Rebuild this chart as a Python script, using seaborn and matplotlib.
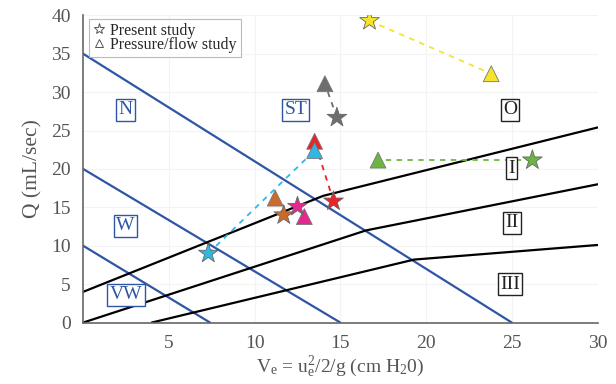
import pandas as pd
import matplotlib
matplotlib.use('Agg')
import matplotlib.pyplot as plt
import seaborn as sns
from matplotlib.lines import Line2D

sns.set_style('white')
plt.rcParams['font.family'] = ['Liberation Serif', 'DejaVu Serif']
plt.rcParams['mathtext.fontset'] = 'custom'
plt.rcParams['mathtext.rm'] = 'Liberation Serif'
plt.rcParams['mathtext.it'] = 'Liberation Serif'

# Данные: цвета пар и координаты (звезда = present study, треугольник = pressure/flow)
colors = ['#f6e32a', '#6e6e6e', '#e8232b', '#2fb8e6', '#6cb543', '#cc6a2a', '#e4288e']
star_x = [16.7, 14.8, 14.6, 7.3, 26.2, 11.7, 12.5]
star_y = [39.3, 26.7, 15.8, 9.0, 21.15, 14.0, 15.1]
tri_x = [23.8, 14.1, 13.5, 13.5, 17.2, 11.2, 12.9]
tri_y = [32.4, 31.1, 23.6, 22.4, 21.15, 16.2, 13.8]

# Граничные линии
blue_lines = [([0, 25], [35, 0]), ([0, 15], [20, 0]), ([0, 7.4], [10, 0])]
black_lines = [([0, 14, 30], [4, 16.5, 25.4]),
               ([0, 16.5, 30], [0, 12.0, 18.0]),
               ([4, 19.3, 30], [0, 8.2, 10.1])]

# Подписи зон
zone_names = ['N', 'ST', 'W', 'VW', 'O', 'I', 'II', 'III']
zone_x = [2.45, 12.4, 2.45, 2.5, 24.9, 25.0, 25.0, 24.9]
zone_y = [27.7, 27.7, 12.6, 3.6, 27.7, 20.1, 13.0, 5.0]
zone_blue = [True, True, True, True, False, False, False, False]

df_star = pd.DataFrame({'x': star_x, 'y': star_y, 'c': colors})
df_tri = pd.DataFrame({'x': tri_x, 'y': tri_y, 'c': colors})

fig, ax = plt.subplots(figsize=(6.16, 3.84), dpi=100)

for xs, ys in blue_lines:
    ax.plot(xs, ys, color='#2f55a4', lw=1.6, zorder=2)
for xs, ys in black_lines:
    ax.plot(xs, ys, color='black', lw=1.6, zorder=2)

for i, c in enumerate(colors):
    ax.plot([star_x[i], tri_x[i]], [star_y[i], tri_y[i]], ls=(0, (3, 3)),
            color=c, lw=1.3, zorder=3)

sns.scatterplot(data=df_tri, x='x', y='y', hue='c', palette=dict(zip(colors, colors)),
                marker='^', s=130, edgecolor='#777777', linewidth=0.6,
                legend=False, ax=ax, zorder=4)
sns.scatterplot(data=df_star, x='x', y='y', hue='c', palette=dict(zip(colors, colors)),
                marker='*', s=220, edgecolor='#666666', linewidth=0.6,
                legend=False, ax=ax, zorder=5)

for name, zx, zy, isblue in zip(zone_names, zone_x, zone_y, zone_blue):
    col = '#2f55a4' if isblue else '#222222'
    ax.text(zx, zy, name, ha='center', va='center', fontsize=14, color=col,
            bbox=dict(boxstyle='square,pad=0.12', fc='white', ec=col, lw=1.0), zorder=6)

ax.set_xlim(0, 30)
ax.set_ylim(0, 40)
ax.set_xticks([5, 10, 15, 20, 25, 30])
ax.set_yticks(range(0, 41, 5))
ax.grid(True, color='#f3f3f3', lw=0.8)
ax.set_axisbelow(True)
for s in ['top', 'right']:
    ax.spines[s].set_visible(False)
for s in ['left', 'bottom']:
    ax.spines[s].set_color('#666666')
    ax.spines[s].set_linewidth(1.2)
ax.tick_params(direction='in', length=5, color='#444444', labelcolor='#555555',
               labelsize=14, pad=9)

ax.set_xlabel(r'V$_\mathrm{e}$ = u$_\mathrm{e}^2$/2/g (cm H$_2$0)', fontsize=14,
              color='#555555', labelpad=2)
ax.set_ylabel('Q (mL/sec)', fontsize=15.5, color='#555555', labelpad=6)

handles = [Line2D([], [], ls='none', marker='*', mfc='none', mec='#555555', ms=8, mew=0.7),
           Line2D([], [], ls='none', marker='^', mfc='none', mec='#555555', ms=6, mew=0.7)]
leg = ax.legend(handles, ['Present study', 'Pressure/flow study'], loc='upper left',
                bbox_to_anchor=(0.005, 1.0), fontsize=11.5, frameon=True, fancybox=False,
                edgecolor='#aaaaaa', handlelength=0.8, handletextpad=0.3,
                labelspacing=-0.1, borderpad=0.25, borderaxespad=0.2)
leg.get_frame().set_linewidth(0.8)

plt.subplots_adjust(left=0.135, right=0.97, top=0.96, bottom=0.16)
plt.savefig('out.png', dpi=100)
